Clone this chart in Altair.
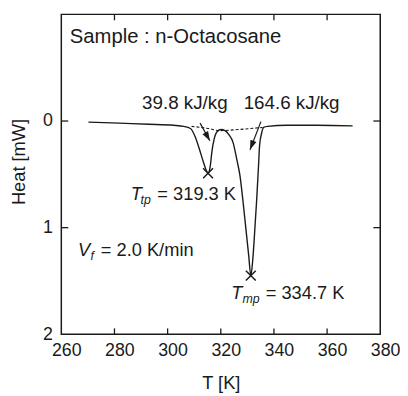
import altair as alt
import pandas as pd

# ---- data ----
curve_T = [270.2, 281.8, 292.9, 302.2, 306.0, 308.6, 310.4, 311.9, 313.4, 314.5, 315.2,
           316.0, 316.7, 317.5, 318.6, 320.1, 321.6, 323.1, 324.6, 326.1, 327.2, 328.3,
           329.4, 330.5, 331.3, 332.0, 332.7, 333.5, 334.2, 334.6, 335.4, 336.1, 337.6,
           345.0, 356.2, 369.6]
curve_H = [0.01, 0.02, 0.03, 0.04, 0.05, 0.07, 0.15, 0.26, 0.38, 0.46, 0.49,
           0.43, 0.28, 0.17, 0.10, 0.08, 0.09, 0.13, 0.20, 0.37, 0.51, 0.74,
           1.00, 1.26, 1.45, 1.31, 1.06, 0.74, 0.42, 0.23, 0.11, 0.06, 0.05,
           0.04, 0.04, 0.045]

base_T = [309.0, 315.3, 319.7, 326.4, 335.7]
base_H = [0.05, 0.07, 0.09, 0.08, 0.06]

peak_T = [315.2, 331.3]
peak_H = [0.49, 1.45]

arrow_T1 = [312.2, 335.1]
arrow_H1 = [0.02, 0.006]
arrow_T2 = [315.9, 331.0]
arrow_H2 = [0.185, 0.269]
arrow_angle = [330.5, 21.2]

x_ticks = [260, 280, 300, 320, 340, 360, 380]
x_inner = [280, 300, 320, 340, 360]
y_ticks = [0, 1, 2]
y_inner = [0, 1]

title_text = ["Sample : n-Octacosane"]
title_T = [263.2]
title_H = [-0.734]

plain_text = ["39.8 kJ/kg", "164.6 kJ/kg"]
plain_T = [290.4, 328.6]
plain_H = [-0.117, -0.117]

sym_main = ["T", "V", "T"]
sym_sub = ["tp", "f", "mp"]
sym_rest = ["= 319.3 K", "= 2.0 K/min", "= 334.7 K"]
sym_T = [286.1, 266.3, 323.9]
sym_H = [0.741, 1.269, 1.667]

# ---- styles ----
W, Hh = 323, 324
INK = "#1a1a1a"
FONT = "Liberation Sans"
sub_dx = [10, 12.5, 11.5]
rest_dx = [27, 23, 35]

xscale = alt.Scale(domain=[260, 380], nice=False, zero=False)
yscale = alt.Scale(domain=[-1, 2], nice=False, zero=False, reverse=True)
xaxis = alt.Axis(values=x_ticks, title="T [K]", format="d", labelOffset=5,
                 labelPadding=7, titleY=40, labelFlush=False)
yaxis = alt.Axis(values=y_ticks, title="Heat [mW]", labelPadding=9,
                 titleX=-33, titleY=149, labelFlush=False)


def X(f="T"):
    return alt.X(f + ":Q", scale=xscale, axis=xaxis)


def Y(f="H"):
    return alt.Y(f + ":Q", scale=yscale, axis=yaxis)


curve = alt.Chart(pd.DataFrame({"T": curve_T, "H": curve_H})).mark_line(
    color=INK, strokeWidth=1.4, interpolate="monotone").encode(x=X(), y=Y())

baseline = alt.Chart(pd.DataFrame({"T": base_T, "H": base_H})).mark_line(
    color=INK, strokeWidth=1.1, strokeDash=[3, 2], interpolate="monotone").encode(x=X(), y=Y())

peaks = alt.Chart(pd.DataFrame({"T": peak_T, "H": peak_H})).mark_point(
    shape="M-1,-1L1,1M-1,1L1,-1", filled=False, size=100, strokeWidth=1.5,
    color=INK, opacity=1).encode(x=X(), y=Y())

arr_df = pd.DataFrame({"T": arrow_T1, "H": arrow_H1, "T2": arrow_T2, "H2": arrow_H2,
                       "ang": arrow_angle})
shafts = alt.Chart(arr_df).mark_rule(color=INK, strokeWidth=1.2).encode(
    x=X(), y=Y(), x2="T2:Q", y2="H2:Q")
heads = alt.Chart(arr_df).mark_point(
    shape="M0,0L-0.34,-1L0.34,-1Z", filled=True, size=361, color=INK, opacity=1).encode(
    x=X("T2"), y=Y("H2"), angle=alt.Angle("ang:Q", scale=None))

tick_b = alt.Chart(pd.DataFrame({"T": x_inner})).mark_rule(color=INK, strokeWidth=1.3).encode(
    x=X(), y=alt.value(Hh), y2=alt.value(Hh - 6))
tick_t = alt.Chart(pd.DataFrame({"T": x_inner})).mark_rule(color=INK, strokeWidth=1.3).encode(
    x=X(), y=alt.value(0), y2=alt.value(6))
tick_l = alt.Chart(pd.DataFrame({"H": y_inner})).mark_rule(color=INK, strokeWidth=1.3).encode(
    y=Y(), x=alt.value(0), x2=alt.value(7))
tick_r = alt.Chart(pd.DataFrame({"H": y_inner})).mark_rule(color=INK, strokeWidth=1.3).encode(
    y=Y(), x=alt.value(W), x2=alt.value(W - 7))

sample = alt.Chart(pd.DataFrame({"T": title_T, "H": title_H, "txt": title_text})).mark_text(
    align="left", baseline="alphabetic", font=FONT, fontSize=20.5, color=INK).encode(
    x=X(), y=Y(), text="txt:N")

plain = alt.Chart(pd.DataFrame({"T": plain_T, "H": plain_H, "txt": plain_text})).mark_text(
    align="left", baseline="alphabetic", font=FONT, fontSize=19, color=INK).encode(
    x=X(), y=Y(), text="txt:N")

sym_df = pd.DataFrame({"T": sym_T, "H": sym_H, "m": sym_main})
layers = [curve, baseline, peaks, shafts, heads, tick_b, tick_t, tick_l, tick_r, sample, plain]
layers.append(alt.Chart(sym_df).mark_text(
    align="left", baseline="alphabetic", font=FONT, fontSize=18.5, fontStyle="italic",
    color=INK).encode(x=X(), y=Y(), text="m:N"))
for i in range(len(sym_T)):
    one = pd.DataFrame({"T": [sym_T[i]], "H": [sym_H[i]], "s": [sym_sub[i]], "r": [sym_rest[i]]})
    layers.append(alt.Chart(one).mark_text(
        align="left", baseline="alphabetic", font=FONT, fontSize=12.5, fontStyle="italic",
        color=INK, dx=sub_dx[i], dy=4).encode(x=X(), y=Y(), text="s:N"))
    layers.append(alt.Chart(one).mark_text(
        align="left", baseline="alphabetic", font=FONT, fontSize=18.5,
        color=INK, dx=rest_dx[i]).encode(x=X(), y=Y(), text="r:N"))

chart = alt.layer(*layers).properties(
    width=W, height=Hh,
    background="white",
    autosize=alt.AutoSizeParams(type="none"),
    padding={"left": 54, "top": 4, "right": 20, "bottom": 58},
).configure_view(stroke=INK, strokeWidth=1.5).configure_axis(
    grid=False, domain=False, ticks=False,
    labelFont=FONT, labelFontSize=18, labelColor=INK,
    titleFont=FONT, titleFontSize=18.5, titleFontWeight="normal", titleColor=INK,
)

chart.save("out.html", embed_options={"renderer": "svg", "actions": False})
